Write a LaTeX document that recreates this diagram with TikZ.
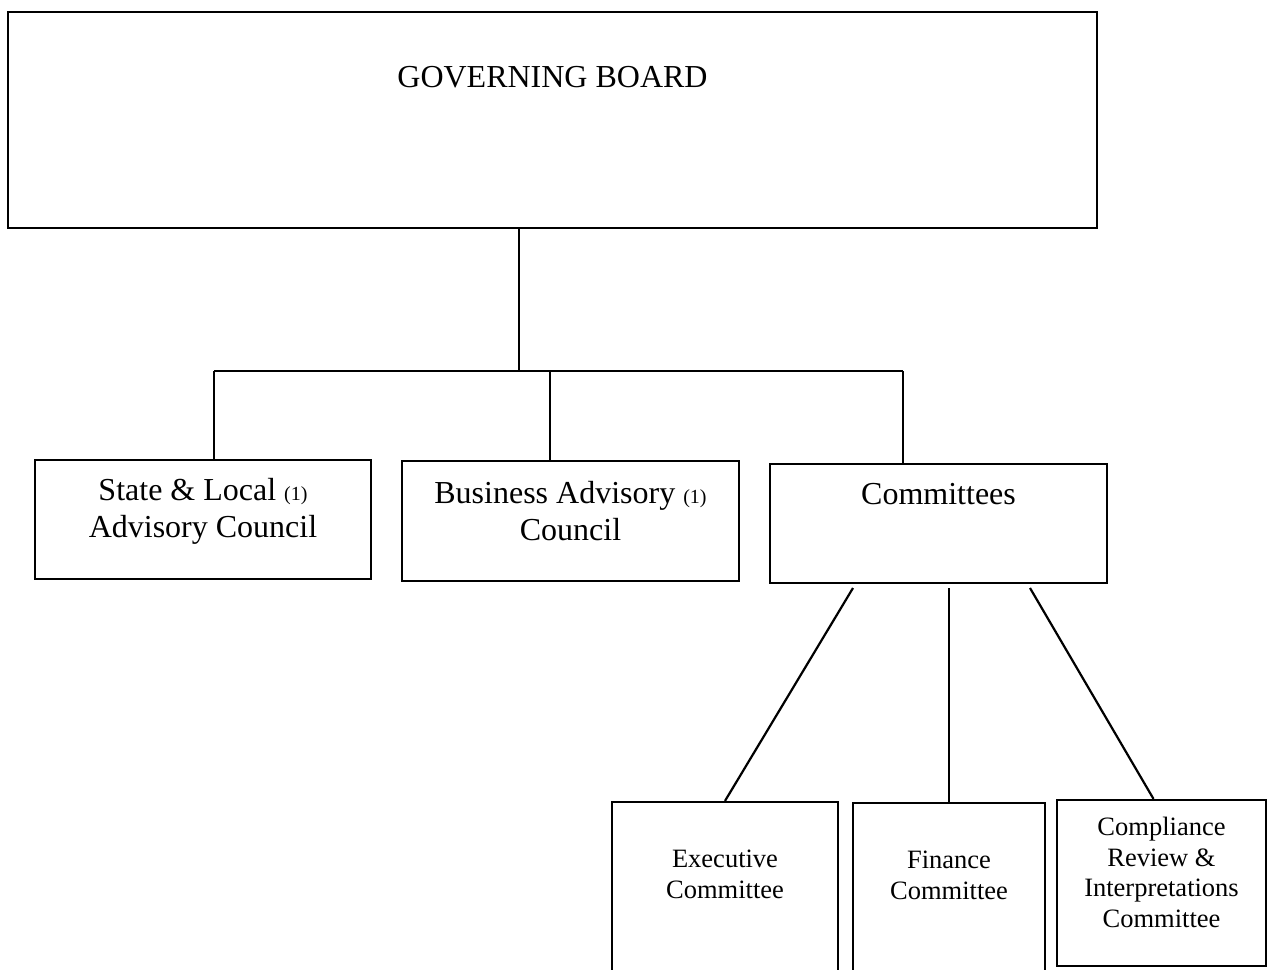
\documentclass[tikz,border=0pt]{standalone}
\usepackage{fontspec}
\setmainfont{Liberation Serif}
\usetikzlibrary{positioning}
\newcommand{\ftnum}[1]{{\fontsize{20}{20}\selectfont(#1)}}

\begin{document}
\begin{tikzpicture}[x=1pt, y=-1pt, line width=2.2pt,
    box/.style={draw, rectangle, inner sep=0pt},
    lbl/.style={inner sep=0pt, align=center},
    big/.style={lbl, font=\fontsize{32}{37}\selectfont},
    small/.style={lbl, font=\fontsize{26.5}{30.7}\selectfont}]

    \useasboundingbox (0,0) rectangle (1273,969);

    % top box
    \node[box, minimum width=1089pt, minimum height=216pt] (board) at (552.5,120) {};
    \node[big, below=54pt of board.north] (board-txt) {GOVERNING BOARD};

    % councils and committees
    \node[box, minimum width=336pt, minimum height=119pt] (sl) at (203,519.5) {};
    \node[big, below=18pt of sl.north] (sl-txt) {State \& Local \ftnum{1}\\Advisory Council};
    \node[box, minimum width=337pt, minimum height=120pt] (ba) at (570.5,521) {};
    \node[big, below=20pt of ba.north] (ba-txt) {Business Advisory \ftnum{1}\\Council};
    \node[box, minimum width=337pt, minimum height=119pt] (cm) at (938.5,523.5) {};
    \node[big, below=19pt of cm.north] (cm-txt) {Committees};

    % single committees
    \node[box, minimum width=226pt, minimum height=200pt] (ex) at (725,902) {};
    \node[small, below=48pt of ex.north] (ex-txt) {Executive\\Committee};
    \node[box, minimum width=192pt, minimum height=200pt] (fi) at (949,903) {};
    \node[small, below=48pt of fi.north] (fi-txt) {Finance\\Committee};
    \node[box, minimum width=209pt, minimum height=166pt] (co) at (1161.5,883) {};
    \node[small, below=17pt of co.north] (co-txt) {Compliance\\Review \&\\Interpretations\\Committee};

    \coordinate (hub) at (519,371);
    \coordinate (bar-l) at (214,371);
    \coordinate (bar-m) at (550,371);
    \coordinate (bar-r) at (903,371);
    \coordinate (fork-l) at (853,588);
    \coordinate (fork-m) at (949,588);
    \coordinate (fork-r) at (1030,588);

    \draw (board.south -| hub) -- (hub);
    \draw (bar-l) -- (bar-r);
    \draw (bar-l) -- (bar-l |- sl.north);
    \draw (bar-m) -- (bar-m |- ba.north);
    \draw (bar-r) -- (bar-r |- cm.north);

    \draw (fork-l) -- (ex.north);
    \draw (fork-m) -- (fi.north);
    \draw (fork-r) -- ([xshift=-8pt]co.north);

\end{tikzpicture}
\end{document}
